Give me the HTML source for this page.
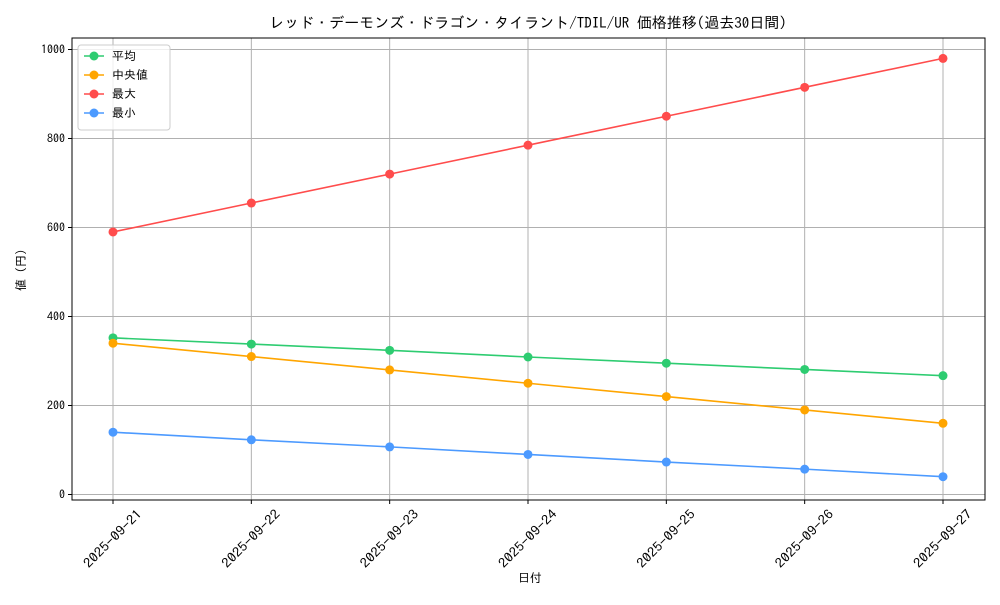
<!DOCTYPE html>
<html><head><meta charset="utf-8"><style>
body{margin:0;background:#fff;}
svg text{font-family:"IPAGothic","Noto Sans CJK JP",sans-serif;fill:#000;}
</style></head><body>
<svg id="chart" width="1000" height="600" xmlns="http://www.w3.org/2000/svg">
<rect width="1000" height="600" fill="#fff"/>
<text x="528" y="28" font-size="15" text-anchor="middle">レッド・デーモンズ・ドラゴン・タイラント/TDIL/UR 価格推移(過去30日間)</text>
<g id="grid"></g>
<g id="series"></g>
<rect x="72" y="38" width="913" height="462" fill="none" stroke="#000" stroke-width="1"/>
<g id="axes"></g>
<text x="530" y="582" font-size="12" text-anchor="middle">日付</text>
<text transform="translate(25,270) rotate(-90)" font-size="12" text-anchor="middle">値 (円)</text>
<g id="legend"></g>
</svg>
<script>
const categories=["2025-09-21","2025-09-22","2025-09-23","2025-09-24","2025-09-25","2025-09-26","2025-09-27"];
const avgValues=[352,338,324,309,295,281,267];
const medianValues=[340,310,280,250,220,190,160];
const maxValues=[590,655,720,785,850,915,980];
const minValues=[140,123,107,90,73,57,40];
const yTicks=[0,200,400,600,800,1000];
const seriesNames=["平均","中央値","最大","最小"];
const NS="http://www.w3.org/2000/svg";
const X0=113,X1=943,Y0=494.5,Y1000=49.5;
function xs(i){return X0+(X1-X0)*i/(categories.length-1);}
function ys(v){return Y0+(Y1000-Y0)*v/1000;}
function mk(tag,attrs,parent){const e=document.createElementNS(NS,tag);for(const k in attrs)e.setAttribute(k,attrs[k]);parent.appendChild(e);return e;}
const grid=document.getElementById('grid'),axes=document.getElementById('axes'),ser=document.getElementById('series'),leg=document.getElementById('legend');
categories.forEach((c,i)=>{
 const x=xs(i);
 const g=mk('line',{x1:x,x2:x,y1:38,y2:500,stroke:'#b0b0b0','stroke-width':1},grid);
 
 
 const t=mk('line',{x1:x,x2:x,y1:500,y2:504,stroke:'#000'},axes);
 
 
 const l=mk('text',{transform:`translate(${x},${539}) rotate(-45)`,'font-size':13,'text-anchor':'middle',y:4,textLength:76,lengthAdjust:'spacingAndGlyphs'},axes);
 l.textContent=c;
 
 
});
yTicks.forEach(v=>{
 const y=ys(v);
 const g=mk('line',{x1:72,x2:985,y1:y,y2:y,stroke:'#b0b0b0','stroke-width':1},grid);
 
 
 const t=mk('line',{x1:68,x2:72,y1:y,y2:y,stroke:'#000'},axes);
 
 
 const l=mk('text',{x:65,y:y+4,'font-size':12,'text-anchor':'end'},axes);
 l.textContent=v;
 
 
});
const all=[avgValues,medianValues,maxValues,minValues];
const colors=["#2ecc71","#ffa500","#ff4c4c","#4c9aff"];
const keys=["average","median","max","min"];
all.forEach((vals,s)=>{
 const p=mk('polyline',{points:vals.map((v,i)=>xs(i)+','+ys(v)).join(' '),fill:'none',stroke:colors[s],'stroke-width':1.6},ser);
 
 
 vals.forEach((v,i)=>{
  const c=mk('circle',{cx:xs(i),cy:ys(v),r:4.5,fill:colors[s]},ser);
  
  
 });
});
const box=mk('rect',{x:78,y:45,width:92,height:85,rx:3,fill:'#fff','fill-opacity':0.8,stroke:'#ccc'},leg);


seriesNames.forEach((n,s)=>{
 const y=56+s*19;
 const g=mk('g',{},leg);
 
 
 mk('line',{x1:84,x2:104,y1:y,y2:y,stroke:colors[s],'stroke-width':1.6},g);
 mk('circle',{cx:94,cy:y,r:4.5,fill:colors[s]},g);
 const t=mk('text',{x:112,y:y+4,'font-size':12},g);
 t.textContent=n;
});
</script>
</body></html>
